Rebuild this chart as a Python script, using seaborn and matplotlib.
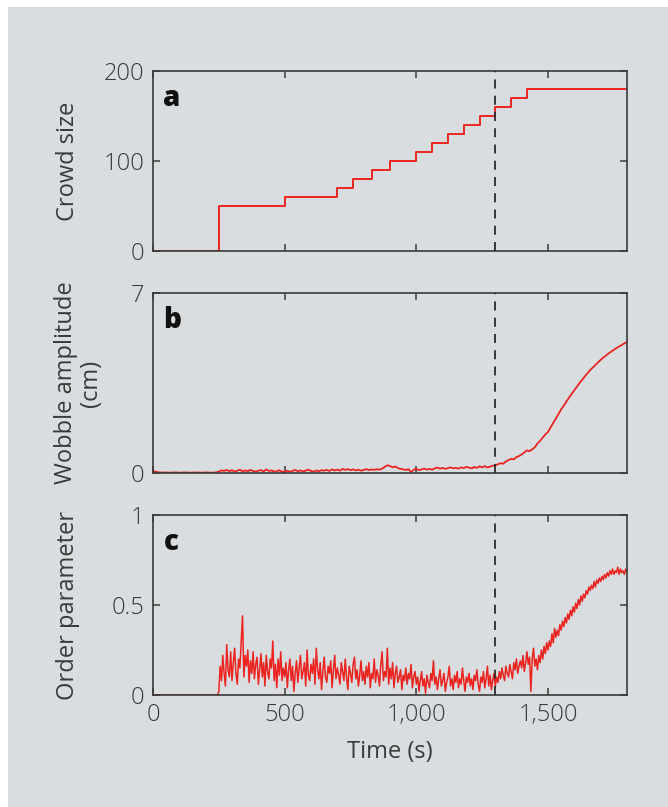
import numpy as np
import pandas as pd
import seaborn as sns
import matplotlib.pyplot as plt
from matplotlib.patches import Rectangle

# panel a: crowd size (step function)
crowd_t = [0, 250, 500, 700, 760, 830, 900, 1000, 1060, 1120, 1180, 1240, 1300, 1360, 1420, 1800]
crowd_n = [0, 50, 60, 70, 80, 90, 100, 110, 120, 130, 140, 150, 160, 170, 180, 180]

# panel b: wobble amplitude (cm), one value every 10 s
wobble_t = np.arange(0, 1801, 10)
wobble_cm = [
    0.08, 0.05, 0.03, 0.02, 0.02, 0.02, 0.01, 0.02, 0.02, 0.02,
    0.01, 0.02, 0.02, 0.02, 0.01, 0.02, 0.02, 0.02, 0.01, 0.02,
    0.02, 0.02, 0.01, 0.02, 0.02,
    # 250
    0.06, 0.1, 0.08, 0.12, 0.07, 0.11, 0.05, 0.09, 0.13, 0.06,
    0.1, 0.07, 0.12, 0.08, 0.05, 0.09, 0.11, 0.06, 0.14, 0.08,
    0.1, 0.05, 0.07, 0.11, 0.04, 0.06, 0.09, 0.05, 0.08, 0.12,
    0.07, 0.1, 0.06, 0.09, 0.13, 0.08, 0.05, 0.1, 0.07, 0.11,
    0.09, 0.12, 0.08, 0.14, 0.1, 0.13, 0.09, 0.16, 0.12, 0.15,
    0.11, 0.14, 0.1, 0.13, 0.09, 0.12, 0.15, 0.11, 0.14, 0.12,
    0.15, 0.13, 0.17, 0.24, 0.3, 0.27, 0.22, 0.25, 0.19, 0.16,
    0.14, 0.12, 0.15, 0.03, 0.13, 0.16, 0.11, 0.14, 0.17, 0.13,
    0.16, 0.13, 0.18, 0.21, 0.17, 0.2, 0.16, 0.19, 0.22, 0.18,
    0.2, 0.17, 0.22, 0.19, 0.24, 0.21, 0.18, 0.23, 0.2, 0.26,
    0.22, 0.27, 0.21, 0.25, 0.28,
    # 1300
    0.3, 0.34, 0.38, 0.36, 0.45, 0.5, 0.55, 0.53, 0.62, 0.66,
    0.72, 0.8, 0.88, 0.85, 0.92, 1.0, 1.15, 1.25, 1.38, 1.5,
    1.6, 1.78, 1.95, 2.12, 2.3, 2.47, 2.62, 2.78, 2.93, 3.08,
    3.22, 3.36, 3.5, 3.63, 3.76, 3.88, 4.0, 4.1, 4.2, 4.3,
    4.4, 4.49, 4.57, 4.65, 4.72, 4.79, 4.86, 4.92, 4.98, 5.04,
    5.1,
]

# panel c: order parameter, one value every 5 s
order_t = np.arange(0, 1801, 5)
order_r = [0.0] * 50 + [
    # 250
    0.02, 0.16, 0.08, 0.22, 0.12, 0.05, 0.28, 0.14, 0.1, 0.24,
    0.08, 0.18, 0.26, 0.12, 0.06, 0.2, 0.15, 0.3, 0.44, 0.1,
    0.22, 0.16, 0.25, 0.07, 0.19, 0.12, 0.24, 0.09, 0.17, 0.21,
    0.06, 0.14, 0.23, 0.1, 0.18, 0.05, 0.22, 0.13, 0.09, 0.2,
    0.15, 0.3, 0.08, 0.17, 0.04, 0.2, 0.11, 0.24, 0.08, 0.15,
    # 500
    0.1, 0.18, 0.04, 0.14, 0.2, 0.08, 0.16, 0.02, 0.12, 0.19,
    0.07, 0.15, 0.22, 0.09, 0.13, 0.18, 0.05, 0.25, 0.11, 0.08,
    0.17, 0.12, 0.2, 0.06, 0.26, 0.14, 0.09, 0.18, 0.03, 0.13,
    0.21, 0.1, 0.07, 0.16, 0.12, 0.19, 0.04, 0.14, 0.22, 0.09,
    0.15, 0.11, 0.06, 0.18, 0.13, 0.08, 0.2, 0.1, 0.03, 0.16,
    0.12, 0.07, 0.17, 0.21, 0.09, 0.14, 0.05, 0.11, 0.19, 0.08,
    0.13, 0.06, 0.16, 0.1, 0.18, 0.04, 0.12, 0.09, 0.2, 0.07,
    0.14, 0.11, 0.05, 0.17, 0.24, 0.08, 0.13, 0.1, 0.26, 0.06,
    0.15, 0.09, 0.18, 0.04, 0.12, 0.16, 0.07, 0.1, 0.14, 0.03,
    0.11, 0.08, 0.15, 0.06, 0.12, 0.09, 0.17, 0.04, 0.1, 0.13,
    # 1000
    0.06, 0.1, 0.02, 0.08, 0.13, 0.05, 0.09, 0.01, 0.11, 0.07,
    0.04, 0.12, 0.08, 0.19, 0.06, 0.1, 0.03, 0.09, 0.14, 0.05,
    0.08, 0.12, 0.02, 0.07, 0.1, 0.16, 0.05, 0.09, 0.03, 0.11,
    0.07, 0.13, 0.04, 0.09, 0.06, 0.15, 0.08, 0.02, 0.1, 0.07,
    0.12, 0.05, 0.09, 0.03, 0.11, 0.08, 0.14, 0.06, 0.02, 0.1,
    0.07, 0.13, 0.04, 0.09, 0.16, 0.05, 0.11, 0.03, 0.08, 0.12,
    # 1300
    0.05, 0.1, 0.07, 0.13, 0.09, 0.15, 0.11, 0.08, 0.16, 0.12,
    0.1, 0.17, 0.13, 0.09, 0.18, 0.14, 0.2, 0.12, 0.16, 0.19,
    0.15, 0.22, 0.13, 0.18, 0.24, 0.17, 0.21, 0.02, 0.2, 0.26,
    # 1450
    0.16, 0.2, 0.14, 0.22, 0.18, 0.25, 0.2, 0.27, 0.23, 0.29,
    0.25, 0.3, 0.27, 0.34, 0.29, 0.37, 0.32, 0.36, 0.33, 0.39,
    0.36, 0.41, 0.38, 0.43, 0.4, 0.45, 0.42, 0.47, 0.44, 0.49,
    0.46, 0.51, 0.48, 0.53, 0.5, 0.55, 0.52, 0.56, 0.54, 0.58,
    0.56, 0.6, 0.58, 0.61, 0.59, 0.63, 0.6, 0.64, 0.62, 0.65,
    0.63, 0.66, 0.64, 0.67, 0.65, 0.68, 0.66, 0.69, 0.67, 0.7,
    0.67, 0.69, 0.68, 0.71, 0.67, 0.7, 0.68, 0.69, 0.67, 0.7,
    0.68,
]

t_onset = 1300
xticks = [0, 500, 1000, 1500]
xlabels = ["0", "500", "1,000", "1,500"]

red = "#ec2420"
ink = "#3a3a3a"
bg = "#d9dde0"

sns.set_style("ticks")
plt.rcParams["font.family"] = ["Open Sans", "DejaVu Sans"]
plt.rcParams["font.weight"] = "light"
plt.rcParams["axes.edgecolor"] = ink
plt.rcParams["axes.linewidth"] = 1.2

fig = plt.figure(figsize=(6.68, 8.07), dpi=100)
fig.patch.set_facecolor("white")
fig.patches.append(Rectangle((8 / 668, 0), 1, 800 / 807, transform=fig.transFigure,
                             facecolor=bg, edgecolor="none", zorder=-10))

W, H = 668, 807
def make_ax(top, bottom):
    return fig.add_axes([153 / W, (H - bottom) / H, (627 - 153) / W, (bottom - top) / H])

ax_a = make_ax(71, 251)
ax_b = make_ax(293, 473)
ax_c = make_ax(515, 695)

df_a = pd.DataFrame({"t": crowd_t, "n": crowd_n})
sns.lineplot(data=df_a, x="t", y="n", ax=ax_a, color=red, lw=1.4, drawstyle="steps-post")

df_b = pd.DataFrame({"t": wobble_t, "a": wobble_cm})
sns.lineplot(data=df_b, x="t", y="a", ax=ax_b, color=red, lw=1.3)

df_c = pd.DataFrame({"t": order_t, "r": order_r})
sns.lineplot(data=df_c, x="t", y="r", ax=ax_c, color=red, lw=1.1)

panels = [(ax_a, "a", [0, 100, 200], ["0", "100", "200"], (0, 200), "Crowd size", -0.154),
          (ax_b, "b", [0, 7], ["0", "7"], (0, 7), "Wobble amplitude\n(cm)", -0.105),
          (ax_c, "c", [0, 0.5, 1], ["0", "0.5", "1"], (0, 1), "Order parameter", -0.154)]

for ax, letter, yt, yl, ylim, ylab, lx in panels:
    ax.set_facecolor("none")
    ax.axvline(t_onset, color="#2a2a2a", lw=1.3, ls=(0, (5, 4)), zorder=3)
    ax.set_xlim(0, 1800)
    ax.set_ylim(*ylim)
    ax.set_xticks(xticks)
    ax.set_yticks(yt)
    ax.set_yticklabels(yl)
    ax.tick_params(direction="in", top=True, right=True, length=5, width=1.1,
                   color=ink, labelsize=17, labelcolor=ink, pad=6)
    for s in ax.spines.values():
        s.set_visible(True)
    ax.set_ylabel(ylab, fontsize=17, color=ink, linespacing=1.05)
    ax.yaxis.set_label_coords(lx, 0.5)
    ax.set_xlabel("")
    ax.text(0.022, 0.85, letter, transform=ax.transAxes, fontsize=20,
            fontweight="heavy", color="#111111", va="center", ha="left")

ax_a.set_xticklabels([])
ax_b.set_xticklabels([])
ax_c.set_xticklabels(xlabels)
ax_c.set_xlabel("Time (s)", fontsize=17, color=ink, labelpad=9)

fig.savefig("out.png", dpi=100)
